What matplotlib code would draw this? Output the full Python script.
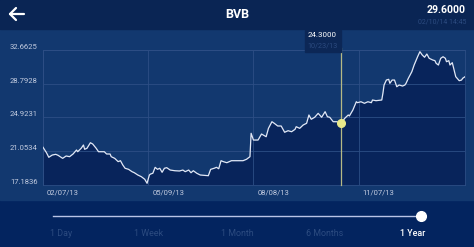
import datetime as dt

import matplotlib.pyplot as plt
import matplotlib.dates as mdates
import matplotlib.transforms as mtransforms
from matplotlib.patches import Rectangle
from matplotlib.lines import Line2D

plt.rcParams['font.family'] = ['Roboto', 'DejaVu Sans']

###############
# Chart data  #
###############

ticker_name = 'BVB'
last_price = '29.6000'
last_time = '02/10/14 14:45'

start_date = dt.date(2013, 2, 7)
day_offsets = [
    0, 3, 5, 8, 11, 13, 17, 20, 23, 26, 29, 30, 33, 35, 36, 38, 41, 43, 46, 48,
    53, 55, 58, 59, 62, 65, 67, 69, 71, 74, 77, 79, 82, 85, 88, 90, 92, 93, 95,
    97, 99, 101, 103, 105, 107, 110, 114, 118, 121, 123, 126, 128, 130, 133,
    136, 143, 145, 148, 150, 152, 154, 156, 159, 163, 167, 173, 176, 179, 180,
    182, 186, 189, 193, 195, 198, 200, 203, 206, 209, 212, 215, 218, 219, 222,
    225, 228, 230, 232, 235, 238, 241, 244, 246, 248, 251, 254, 258, 261, 264,
    265, 268, 271, 272, 275, 278, 281, 284, 285, 288, 293, 294, 295, 297, 299,
    300, 302, 304, 306, 308, 311, 313, 314, 316, 319, 321, 324, 326, 328, 330,
    332, 334, 337, 339, 340, 342, 344, 346, 348, 349, 351, 352, 354, 356, 357,
    360, 362, 363, 365,
]
prices = [
    21.51, 20.89, 20.36, 20.62, 20.70, 20.59, 20.24, 20.51, 20.43, 20.74,
    21.20, 21.00, 21.39, 21.77, 21.28, 21.39, 22.03, 21.88, 21.39, 21.00,
    21.00, 20.74, 20.74, 20.43, 20.24, 19.86, 19.97, 19.48, 19.10, 18.98,
    18.71, 18.59, 18.33, 18.14, 17.84, 17.38, 18.33, 18.44, 18.53, 19.21,
    18.98, 19.10, 18.64, 19.10, 19.17, 18.90, 18.82, 18.79, 18.90, 18.71,
    18.90, 18.59, 18.82, 18.53, 18.33, 18.25, 18.98, 19.10, 19.21, 19.05,
    19.97, 19.86, 19.74, 19.97, 19.97, 19.97, 20.13, 20.43, 23.11, 22.34,
    22.34, 23.03, 22.72, 23.68, 24.44, 24.26, 23.95, 23.95, 23.23, 23.41,
    23.29, 23.57, 23.87, 23.68, 24.06, 24.26, 25.21, 24.72, 24.95, 25.40,
    24.95, 25.59, 25.01, 24.95, 24.44, 24.44, 24.30, 24.83, 25.21, 25.10,
    25.78, 26.73, 26.62, 26.73, 26.55, 26.73, 26.62, 26.93, 26.85, 26.93,
    27.70, 28.65, 29.22, 29.30, 28.84, 29.22, 29.22, 28.45, 28.65, 28.53,
    28.65, 28.84, 29.42, 30.17, 30.94, 31.89, 32.47, 32.09, 31.83, 32.20,
    31.71, 31.52, 31.44, 31.14, 30.94, 31.71, 31.89, 31.71, 31.32, 31.44,
    30.94, 31.21, 30.17, 29.60, 29.14, 29.22, 29.42, 29.60,
]

y_ticks = [17.1836, 21.0534, 24.9231, 28.7928, 32.6625]
x_tick_labels = ['02/07/13', '05/09/13', '08/08/13', '11/07/13']

sel_label = '10/23/13'
sel_price = 24.3000

ranges = ['1 Day', '1 Week', '1 Month', '6 Months', '1 Year']
active_range = '1 Year'

##########
# Styles #
##########

W, H = 474, 247
HEADER_BG = '#0a2554'
CHART_BG = '#12386f'
FILL_BG = '#08245b'
BOTTOM_BG = '#03245f'
GRID = '#2d4e85'
LINE = '#e2e8f6'
LABEL = '#c3cce0'
FAINT = '#2c4b80'
HILITE = '#b5b985'
DOT = '#e9e98a'


def fx(px):
    return px / W


def fy(py):
    return 1 - py / H


def to_date(s):
    return dt.datetime.strptime(s, '%m/%d/%y').date()


dates = [start_date + dt.timedelta(days=d) for d in day_offsets]

fig = plt.figure(figsize=(W / 100, H / 100), dpi=100, facecolor=BOTTOM_BG)
fig.patches.append(Rectangle((0, fy(200)), 1, (200 - 29) / H,
                             transform=fig.transFigure, color=CHART_BG,
                             zorder=-5))
fig.patches.append(Rectangle((0, fy(29)), 1, 29 / H,
                             transform=fig.transFigure, color=HEADER_BG,
                             zorder=-5))

ax = fig.add_axes([fx(43), fy(185), fx(465 - 43), 135 / H])
ax.patch.set_alpha(0)

ax.fill_between(dates, prices, y_ticks[0], color=FILL_BG, lw=0, zorder=1)
ax.plot(dates, prices, color=LINE, lw=0.9, zorder=3)

ax.set_xlim(dates[0], dates[-1])
ax.set_ylim(y_ticks[0], y_ticks[-1])

ax.set_yticks(y_ticks)
ax.set_yticklabels(['{:.4f}'.format(v) for v in y_ticks])
ax.set_xticks([to_date(s) for s in x_tick_labels])
ax.set_xticklabels(x_tick_labels)

ax.grid(color=GRID, lw=0.6, zorder=0)
for sp in ax.spines.values():
    sp.set_color(GRID)
    sp.set_linewidth(0.6)

ax.tick_params(length=0, colors=LABEL, labelsize=5.5)
ax.tick_params(axis='y', pad=33 * 0.72)
ax.tick_params(axis='x', pad=3)
for lab in ax.get_yticklabels():
    lab.set_ha('left')
    lab.set_va('bottom')
shift = mtransforms.ScaledTranslation(4 / 100, 0, fig.dpi_scale_trans)
for lab in ax.get_xticklabels():
    lab.set_ha('left')
    lab.set_transform(lab.get_transform() + shift)

# selected point with tooltip
sel_date = to_date(sel_label)
sel_num = mdates.date2num(sel_date)
ax.axvline(sel_date, ymin=0, ymax=1.015, color=HILITE, lw=0.9,
           clip_on=False, zorder=4)
ax.plot([sel_date], [sel_price], 'o', ms=5.5, color=DOT, mec=DOT, zorder=5)

anchor = mtransforms.blended_transform_factory(ax.transData, ax.transAxes)
tip = mtransforms.IdentityTransform() + \
    mtransforms.ScaledTranslation(sel_num, 1.0, anchor)
fig.patches.append(Rectangle((-36, -2), 36, 22, transform=tip,
                             color='#0c2756', zorder=2))
fig.text(-19, 14.5, '{:.4f}'.format(sel_price), transform=tip,
         ha='center', va='center', color='white', fontsize=5.7)
fig.text(-19, 4, sel_label, transform=tip,
         ha='center', va='center', color=FAINT, fontsize=5.2)

# header
fig.text(fx(237), fy(14), ticker_name, ha='center', va='center',
         color='white', fontsize=9, fontweight='bold')
fig.text(fx(466), fy(10), last_price, ha='right', va='center',
         color='white', fontsize=7.6, fontweight='bold')
fig.text(fx(466), fy(21.5), last_time, ha='right', va='center',
         color=FAINT, fontsize=5)
for xs, ys in [((10, 24), (14, 14)), ((10, 16), (14, 8)), ((10, 16), (14, 20))]:
    fig.add_artist(Line2D([fx(x) for x in xs], [fy(y) for y in ys],
                          color='white', lw=1.6, solid_capstyle='round'))

# range slider
fig.add_artist(Line2D([fx(53), fx(421)], [fy(216), fy(216)],
                      color='#b9c4e6', lw=1))
fig.add_artist(Line2D([fx(421)], [fy(216)], marker='o', ms=7,
                      color='white', mec='white'))
for i, name in enumerate(ranges):
    active = name == active_range
    fig.text(fx(61 + 88 * i), fy(234), name, ha='center', va='center',
             fontsize=6.4, color='white' if active else FAINT,
             fontweight='medium' if active else 'normal')

fig.savefig('out.png', dpi=100, facecolor=BOTTOM_BG)
